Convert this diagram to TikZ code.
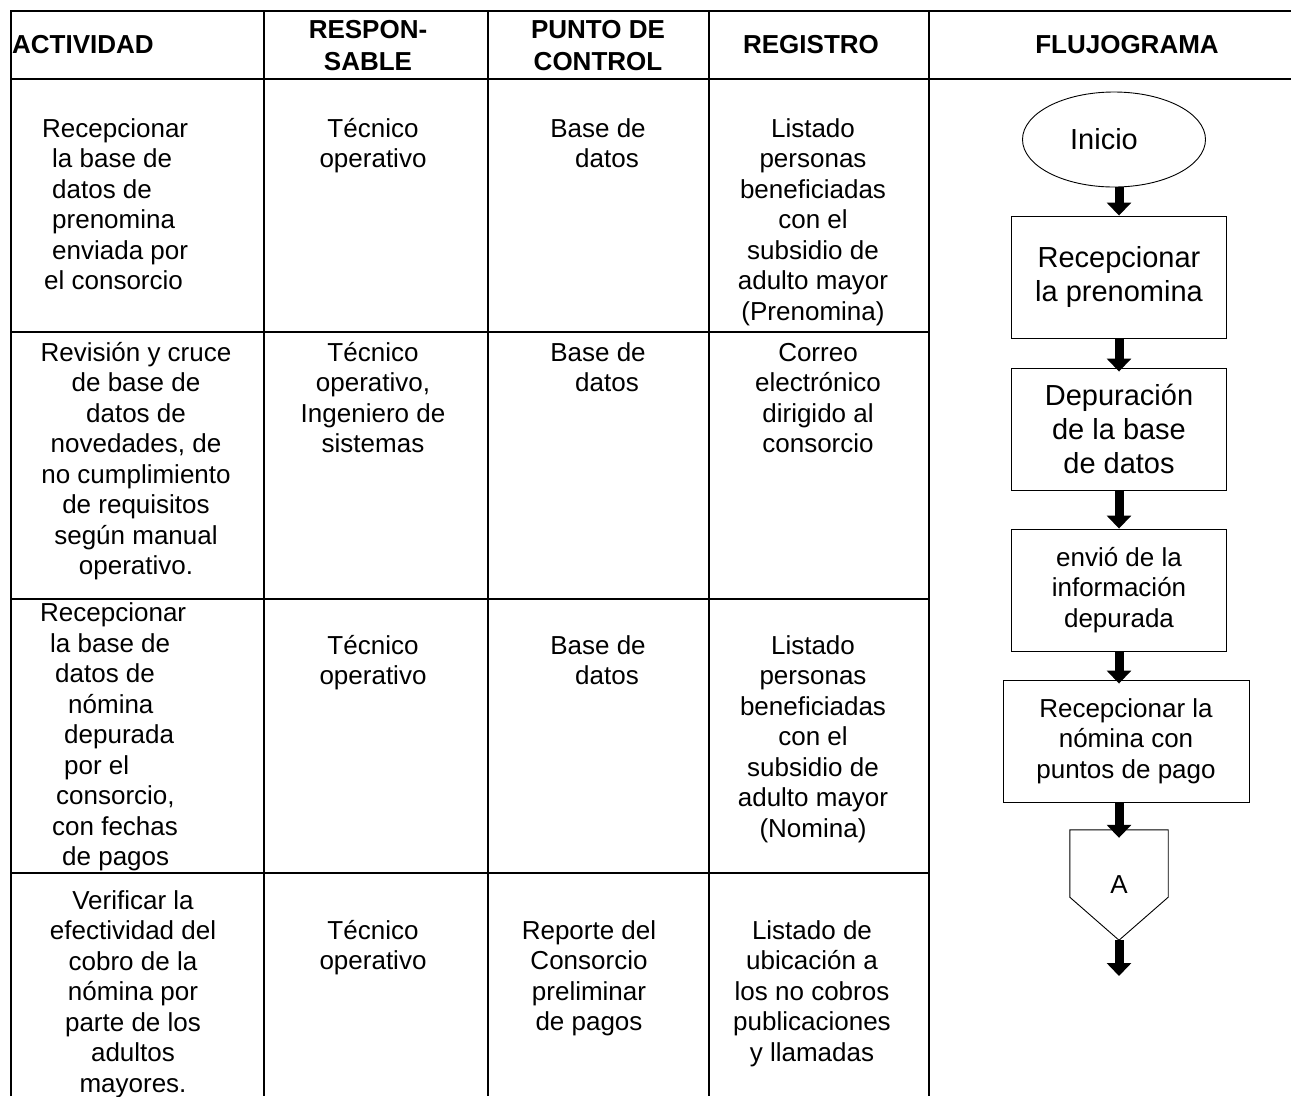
\documentclass[tikz,border=0pt]{standalone}
\usepackage{fontspec}
\setmainfont{Liberation Sans}
\usetikzlibrary{shapes.geometric,arrows.meta,calc}
\newcommand{\bodyfont}{\fontsize{26}{30.5}\selectfont}
\newcommand{\headfont}{\fontsize{26}{32}\selectfont\bfseries}
\newcommand{\bigflowfont}{\fontsize{29}{34}\selectfont}
\newcommand{\flowfont}{\fontsize{26}{30.5}\selectfont}
\begin{document}
\begin{tikzpicture}[x=1pt,y=-1pt,
  grid/.style={line width=2.4pt},
  head/.style={font=\headfont, align=center, inner sep=0pt},
  cell/.style={font=\bodyfont, align=center, anchor=north, inner sep=0pt},
  lcell/.style={font=\bodyfont, align=left, anchor=north west, inner sep=0pt},
  fbox/.style={draw, line width=0.9pt, minimum width=215pt, minimum height=122pt, align=center, inner sep=0pt},
  flow/.style={line width=9pt, -{Triangle[length=13pt,width=24pt]}},
]
\useasboundingbox (0,0) rectangle (1291,1096);
\fill[white] (0,0) rectangle (1291,1096);

% table grid
\draw[grid] (11,1096) -- (11,11) -- (1291,11);
\draw[grid] (11,79) -- (1291,79);
\draw[grid] (11,332) -- (929,332);
\draw[grid] (11,599) -- (929,599);
\draw[grid] (11,873) -- (929,873);
\draw[grid] (264,11) -- (264,1096);
\draw[grid] (488,11) -- (488,1096);
\draw[grid] (709,11) -- (709,1096);
\draw[grid] (929,11) -- (929,1096);

% header
\node[head, anchor=west] (hAct) at (12,45) {ACTIVIDAD};
\node[head] (hResp) at (368,46) {RESPON-\\SABLE};
\node[head] (hPunto) at (598,46) {PUNTO DE\\CONTROL};
\node[head] (hReg) at (811,45) {REGISTRO};
\node[head] (hFlu) at (1127,45) {FLUJOGRAMA};

% row 1
\node[lcell] (a1) at (52,115.5) {\strut\hspace*{-10pt}Recepcionar\\la base de\\datos de\\prenomina\\enviada por\\\hspace*{-8pt}el consorcio};
\node[cell] (r1) at (373,115.5) {\strut Técnico\\operativo};
\node[cell] (p1) at (598,115.5) {\strut Base de\\\hspace*{18pt}datos};
\node[cell] (g1) at (813,115.5) {\strut Listado\\personas\\beneficiadas\\con el\\subsidio de\\adulto mayor\\(Prenomina)};

% row 2
\node[cell] (a2) at (136,339.5) {\strut Revisión y cruce\\de base de\\datos de\\novedades, de\\no cumplimiento\\de requisitos\\según manual\\operativo.};
\node[cell] (r2) at (373,339.5) {\strut Técnico\\operativo,\\Ingeniero de\\sistemas};
\node[cell] (p2) at (598,339.5) {\strut Base de\\\hspace*{18pt}datos};
\node[cell] (g2) at (818,339.5) {\strut Correo\\electrónico\\dirigido al\\consorcio};

% row 3
\node[lcell] (a3) at (40,600) {\strut Recepcionar\\\hspace*{10pt}la base de\\\hspace*{15pt}datos de\\\hspace*{28pt}nómina\\\hspace*{24pt}depurada\\\hspace*{24pt}por el\\\hspace*{16pt}consorcio,\\\hspace*{12pt}con fechas\\\hspace*{22pt}de pagos};
\node[cell] (r3) at (373,632.5) {\strut Técnico\\operativo};
\node[cell] (p3) at (598,632.5) {\strut Base de\\\hspace*{18pt}datos};
\node[cell] (g3) at (813,632.5) {\strut Listado\\personas\\beneficiadas\\con el\\subsidio de\\adulto mayor\\(Nomina)};

% row 4
\node[cell] (a4) at (133,887.5) {\strut Verificar la\\efectividad del\\cobro de la\\nómina por\\parte de los\\adultos\\mayores.};
\node[cell] (r4) at (373,917.5) {\strut Técnico\\operativo};
\node[cell] (p4) at (589,917.5) {\strut Reporte del\\Consorcio\\preliminar\\de pagos};
\node[cell] (g4) at (812,917.5) {\strut Listado de\\ubicación a\\los no cobros\\publicaciones\\y llamadas};

% flowchart
\node[ellipse, draw, line width=0.9pt, minimum width=183pt, minimum height=95pt, inner sep=0pt, font=\bigflowfont] (ini) at (1114,139.5) {Inicio\hspace*{20pt}};
\node[fbox, font=\bigflowfont] (b1) at (1119,277) {Recepcionar\\la prenomina};
\node[fbox, font=\bigflowfont] (b2) at (1119,429) {Depuración\\de la base\\de datos};
\node[fbox, font=\flowfont] (b3) at (1119,590) {envió de la\\información\\depurada};
\node[fbox, minimum width=246pt, font=\flowfont] (b4) at (1126,741) {Recepcionar la\\nómina con\\puntos de pago};
\node[minimum width=98pt, minimum height=110pt, inner sep=0pt, font=\flowfont] (cA) at (1119,885) {A};
\draw[line width=0.9pt] (cA.north west) -- ([yshift=43pt]cA.south west) -- (cA.south) -- ([yshift=43pt]cA.south east) -- (cA.north east) -- cycle;
\coordinate (endA) at (1119,976);

\draw[flow] (ini.south -| b1.north) -- (b1.north);
\draw[flow] (b1.south) -- ([yshift=-4pt]b2.north);
\draw[flow] (b2.south) -- (b3.north);
\draw[flow] (b3.south) -- ([yshift=-4pt]b4.north -| b3.south);
\draw[flow] (b4.south -| cA.north) -- ([yshift=-8pt]cA.north);
\draw[flow] (cA.south) -- (endA);
\end{tikzpicture}
\end{document}
